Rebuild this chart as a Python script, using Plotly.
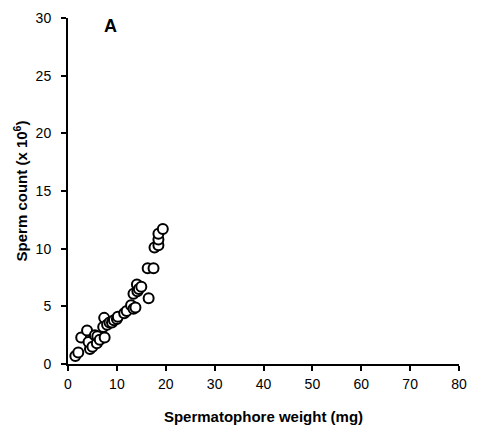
import plotly.graph_objects as go

weight_mg = [1.5, 2.1, 2.7, 3.9, 4.5, 4.2, 5.0, 5.5, 5.9, 6.0, 6.5, 7.2, 7.4, 7.5, 8.0,
             8.5, 9.0, 9.4, 10.0, 10.2, 11.5, 12.0, 12.9, 13.4, 13.8, 13.4, 14.1, 14.2,
             14.5, 15.0, 16.5, 16.3, 17.5, 17.7, 18.5, 18.5, 18.5, 19.4]
sperm_count = [0.7, 1.0, 2.3, 2.9, 1.3, 1.9, 1.5, 2.5, 1.8, 2.4, 2.1, 3.2, 4.0, 2.3, 3.4,
               3.6, 3.6, 3.8, 3.9, 4.1, 4.4, 4.6, 5.1, 4.8, 4.9, 6.1, 6.9, 6.3,
               6.5, 6.7, 5.7, 8.3, 8.3, 10.1, 10.3, 10.8, 11.3, 11.7]

x_ticks = [0, 10, 20, 30, 40, 50, 60, 70, 80]
y_ticks = [0, 5, 10, 15, 20, 25, 30]

font_family = "Liberation Sans, Arial, sans-serif"

fig = go.Figure()
fig.add_trace(go.Scatter(
    x=weight_mg, y=sperm_count, mode="markers",
    marker=dict(size=10, color="white", line=dict(color="black", width=2)),
    cliponaxis=False, showlegend=False, hoverinfo="skip",
))

fig.update_layout(
    autosize=True,
    margin=dict(l=68, r=10, t=15, b=67),
    paper_bgcolor="white", plot_bgcolor="white",
    font=dict(family=font_family, size=14, color="black"),
    xaxis=dict(
        range=[0, 80], tickvals=x_ticks, showgrid=False, zeroline=False,
        showline=True, linecolor="black", linewidth=2,
        ticks="outside", ticklen=5, tickwidth=2, tickcolor="black",
        ticklabelstandoff=1,
        title=dict(text="<b>Spermatophore weight (mg)</b>", font=dict(size=15), standoff=21),
    ),
    yaxis=dict(
        range=[0, 30], tickvals=y_ticks, showgrid=False, zeroline=False,
        showline=True, linecolor="black", linewidth=2,
        ticks="outside", ticklen=5, tickwidth=2, tickcolor="black",
        ticklabelstandoff=7,
        title=dict(text="<b>Sperm count (x 10<sup>6</sup>)</b>", font=dict(size=15), standoff=4),
    ),
    annotations=[dict(
        x=8.6, y=29.3, xref="x", yref="y", text="<b>A</b>", showarrow=False,
        font=dict(size=18, family=font_family, color="black"),
    )],
)

fig.write_html(
    "out.html",
    default_width="100vw",
    default_height="100vh",
    config={"displayModeBar": False, "staticPlot": True},
    post_script=(
        "document.documentElement.style.margin='0';"
        "document.documentElement.style.overflow='hidden';"
        "document.body.style.margin='0';"
        "document.body.style.overflow='hidden';"
    ),
)
